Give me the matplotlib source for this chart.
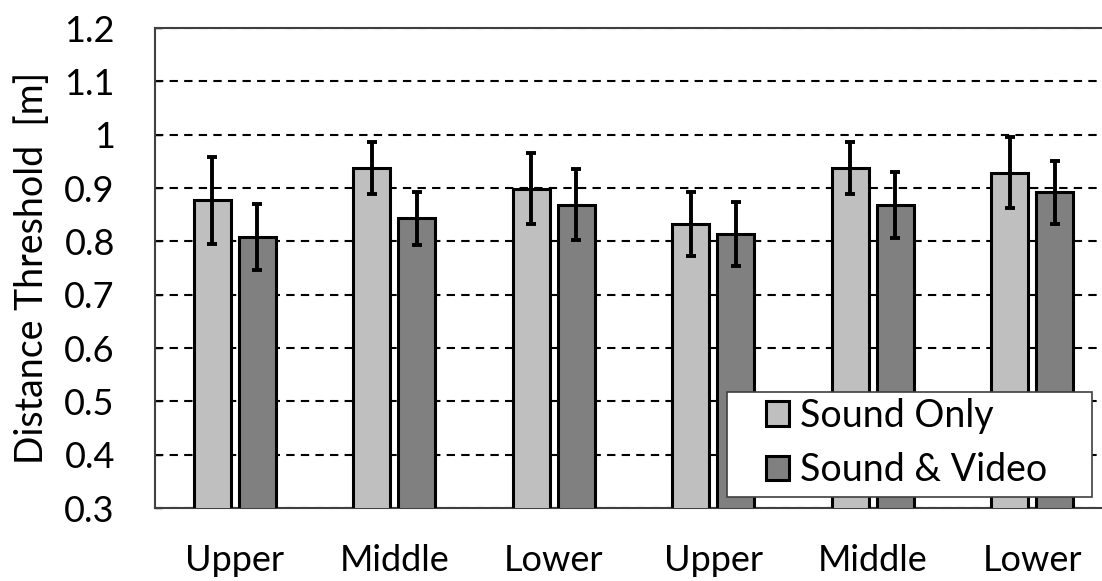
import numpy as np
import matplotlib.pyplot as plt
from matplotlib.patches import Rectangle

plt.rcParams['font.family'] = ['Lato', 'DejaVu Sans']

categories = ['Upper', 'Middle', 'Lower', 'Upper', 'Middle', 'Lower']
sound_only = [0.877, 0.937, 0.899, 0.832, 0.937, 0.929]
sound_only_err = [0.082, 0.049, 0.066, 0.060, 0.049, 0.066]
sound_video = [0.809, 0.843, 0.869, 0.813, 0.869, 0.892]
sound_video_err = [0.062, 0.050, 0.066, 0.060, 0.062, 0.059]
yticks = [0.3, 0.4, 0.5, 0.6, 0.7, 0.8, 0.9, 1.0, 1.1, 1.2]
ytick_labels = ['0.3', '0.4', '0.5', '0.6', '0.7', '0.8', '0.9', '1', '1.1', '1.2']

fig = plt.figure(figsize=(11.02, 5.81), dpi=100)
ax = fig.add_axes([0.1407, 0.1256, 0.8684, 0.826])

x = np.arange(len(categories))
w = 0.232
off = 0.142
err_kw = dict(ecolor='black', elinewidth=2.8, capsize=3.6, capthick=2.8)
ax.bar(x - off, sound_only, w, bottom=0, color='#bfbfbf', edgecolor='black',
       linewidth=2.2, yerr=sound_only_err, error_kw=err_kw, label='Sound Only', zorder=3)
ax.bar(x + off, sound_video, w, bottom=0, color='#808080', edgecolor='black',
       linewidth=2.2, yerr=sound_video_err, error_kw=err_kw, label='Sound & Video', zorder=3)

ax.set_xlim(-0.5, len(categories) - 0.5)
ax.set_ylim(0.3, 1.2)
ax.set_yticks(yticks)
ax.set_yticklabels(ytick_labels)
ax.set_xticks(x)
ax.set_xticklabels(categories)
ax.tick_params(axis='x', length=0, pad=26, labelsize=26)
ax.tick_params(axis='y', direction='in', length=5, width=1, pad=29, labelsize=26)
ax.yaxis.grid(True, linestyle=(0, (4, 3)), color='black', linewidth=1.5, zorder=1)
ax.set_axisbelow(True)
for s in ax.spines.values():
    s.set_color('#404040')
    s.set_linewidth(1.5)
ax.set_ylabel('Distance Threshold  [m]', fontsize=27, labelpad=10)

# legend box
fig.patches.append(Rectangle((727 / 1102, 84 / 581), 365 / 1102, 105 / 581,
                             transform=fig.transFigure, facecolor='white',
                             edgecolor='#404040', linewidth=1.2, zorder=1))
leg = fig.legend(*ax.get_legend_handles_labels(), loc='center left',
                 bbox_to_anchor=(747 / 1102, 1 - 443 / 581),
                 fontsize=27, handlelength=0.62, handleheight=0.62, handletextpad=0.3,
                 borderpad=0, labelspacing=0.5, frameon=False)
leg.set_zorder(2)

fig.savefig('out.png', dpi=100)
